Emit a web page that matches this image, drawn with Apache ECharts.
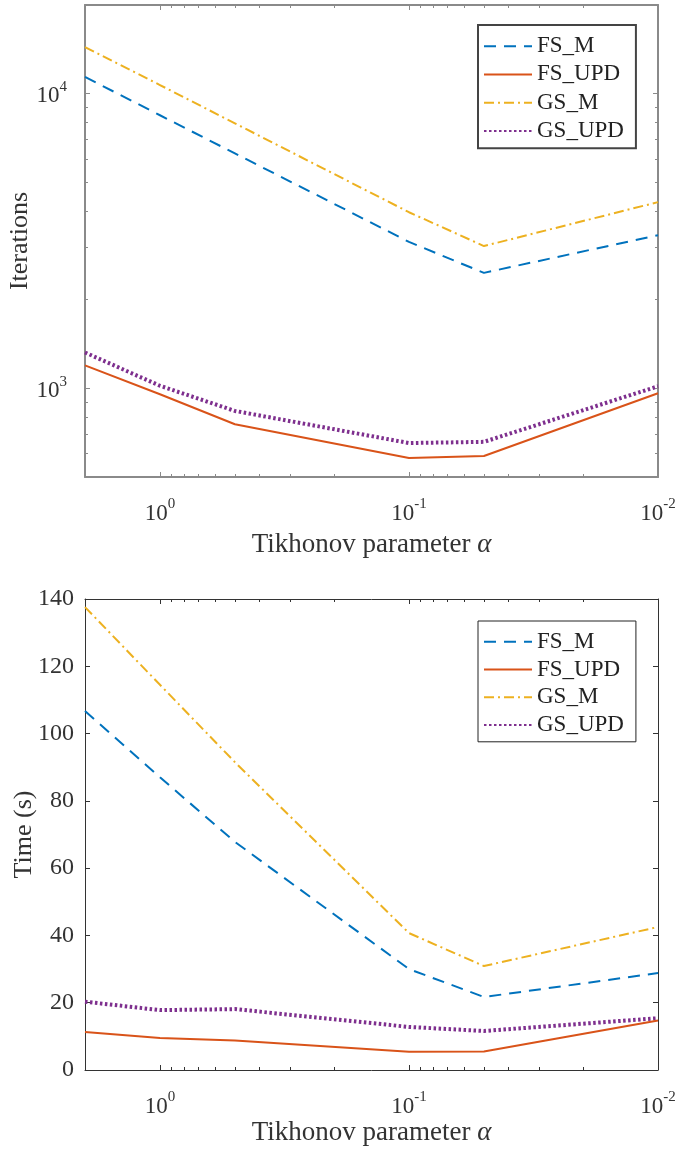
<!DOCTYPE html>
<html><head><meta charset="utf-8">
<script src="https://cdn.jsdelivr.net/npm/echarts@6/dist/echarts.min.js"></script>
<style>html,body{margin:0;padding:0;background:#fff}#c{width:679px;height:1150px}</style>
</head><body><div id="c"></div>
<script>
// ---- data ----
const alphas = [2, 1, 0.5, 0.1, 0.05, 0.01];
const seriesNames = ['FS_M', 'FS_UPD', 'GS_M', 'GS_UPD'];

const iterFS_M   = [11400, 8450, 6270, 3140, 2465, 3310];
const iterFS_UPD = [1196, 955, 755, 580, 589, 962];
const iterGS_M   = [14400, 10700, 7930, 3960, 3040, 4285];
const iterGS_UPD = [1323, 1020, 838, 652, 658, 1016];

const timeFS_M   = [106.7, 87.0, 67.8, 30.0, 21.7, 28.8];
const timeFS_UPD = [11.3, 9.5, 8.8, 5.4, 5.5, 14.7];
const timeGS_M   = [137.6, 114.5, 91.5, 40.7, 30.9, 42.5];
const timeGS_UPD = [20.3, 17.8, 18.1, 12.8, 11.6, 15.4];

const xMajorTicks = [1, 0.1, 0.01];
const xMinorTicks = [2, 0.9, 0.8, 0.7, 0.6, 0.5, 0.4, 0.3, 0.2,
                     0.09, 0.08, 0.07, 0.06, 0.05, 0.04, 0.03, 0.02];
const yIterMajorTicks = [1000, 10000];
const yIterMinorTicks = [600, 700, 800, 900, 2000, 3000, 4000, 5000, 6000, 7000, 8000, 9000];

// ---- style ----
const FONT = 'Liberation Serif';
const colors = ['#0072BD', '#D95319', '#EDB120', '#7E2F8E'];
const lineTypes = [[12, 8], 'solid', [10, 4, 2, 4], [2.5, 2.5]];
const lineWidths = [2, 2, 2, 4];

const pow10Rich = {
  b: { fontFamily: FONT, fontSize: 23, color: '#333', lineHeight: 28, verticalAlign: 'bottom' },
  s: { fontFamily: FONT, fontSize: 15, color: '#333', lineHeight: 16, verticalAlign: 'top' }
};
function pow10Label(v) {
  const e = Math.round(Math.log10(v));
  return '{b|10}{s|' + e + '}';
}

const frames = [{ color: '#8a8a8a', width: 2 }, { color: '#333', width: 1 }];
const xNameGaps = [54, 49];

function makeXAxes(g) {
  const fr = frames[g];
  const base = { gridIndex: g, type: 'log', logBase: 10, min: 0.01, max: 2, inverse: true,
                 splitLine: { show: false }, minorTick: { show: false } };
  const main = Object.assign({}, base, {
    position: 'bottom',
    axisLine: { show: true, lineStyle: { color: fr.color, width: fr.width } },
    axisTick: { show: true, inside: true, length: 5, customValues: xMajorTicks, lineStyle: { color: fr.color, width: 1 } },
    axisLabel: { show: true, customValues: xMajorTicks, formatter: pow10Label, rich: pow10Rich, margin: 20 },
    name: 'Tikhonov parameter {a|α}', nameLocation: 'middle', nameGap: xNameGaps[g], nameMoveOverlap: false,
    nameTextStyle: { fontFamily: FONT, fontSize: 27, color: '#333',
      rich: { a: { fontFamily: FONT, fontSize: 27, fontStyle: 'italic', color: '#333' } } }
  });
  const minor = pos => Object.assign({}, base, {
    position: pos,
    axisLine: { show: false },
    axisTick: { show: true, inside: true, length: 3, customValues: xMinorTicks, lineStyle: { color: fr.color, width: 1 } },
    axisLabel: { show: false }
  });
  const top = Object.assign({}, base, {
    position: 'top',
    axisLine: { show: true, lineStyle: { color: fr.color, width: fr.width } },
    axisTick: { show: true, inside: true, length: 5, customValues: xMajorTicks, lineStyle: { color: fr.color, width: 1 } },
    axisLabel: { show: false }
  });
  return [main, minor('bottom'), top, minor('top')];
}

function makeIterYAxes() {
  const fr = frames[0];
  const base = { gridIndex: 0, type: 'log', logBase: 10, min: 500, max: 20000,
                 splitLine: { show: false }, minorTick: { show: false } };
  const main = Object.assign({}, base, {
    position: 'left',
    axisLine: { show: true, lineStyle: { color: fr.color, width: fr.width } },
    axisTick: { show: true, inside: true, length: 5, customValues: yIterMajorTicks, lineStyle: { color: fr.color, width: 1 } },
    axisLabel: { show: true, customValues: yIterMajorTicks, formatter: pow10Label, rich: pow10Rich, margin: 18 },
    name: 'Iterations', nameLocation: 'middle', nameGap: 52, nameMoveOverlap: false,
    nameTextStyle: { fontFamily: FONT, fontSize: 26, color: '#333' }
  });
  const minor = pos => Object.assign({}, base, {
    position: pos,
    axisLine: { show: false },
    axisTick: { show: true, inside: true, length: 3, customValues: yIterMinorTicks, lineStyle: { color: fr.color, width: 1 } },
    axisLabel: { show: false }
  });
  const right = Object.assign({}, base, {
    position: 'right',
    axisLine: { show: true, lineStyle: { color: fr.color, width: fr.width } },
    axisTick: { show: true, inside: true, length: 5, customValues: yIterMajorTicks, lineStyle: { color: fr.color, width: 1 } },
    axisLabel: { show: false }
  });
  return [main, minor('left'), right, minor('right')];
}

function makeTimeYAxes() {
  const fr = frames[1];
  const base = { gridIndex: 1, type: 'value', min: 0, max: 140, interval: 20, splitLine: { show: false } };
  const left = Object.assign({}, base, {
    position: 'left',
    axisLine: { show: true, lineStyle: { color: fr.color, width: fr.width } },
    axisTick: { show: true, inside: true, length: 5, lineStyle: { color: fr.color, width: 1 } },
    axisLabel: { show: true, fontFamily: FONT, fontSize: 24, color: '#333', margin: 11 },
    name: 'Time (s)', nameLocation: 'middle', nameGap: 48, nameMoveOverlap: false,
    nameTextStyle: { fontFamily: FONT, fontSize: 26, color: '#333' }
  });
  const right = Object.assign({}, base, {
    position: 'right',
    axisLine: { show: true, lineStyle: { color: fr.color, width: fr.width } },
    axisTick: { show: true, inside: true, length: 5, lineStyle: { color: fr.color, width: 1 } },
    axisLabel: { show: false }
  });
  return [left, right];
}

const xAxes = makeXAxes(0).concat(makeXAxes(1));       // main x: 0 and 4
const yAxes = makeIterYAxes().concat(makeTimeYAxes());  // main y: 0 and 4

function pairs(vals) { return alphas.map((a, i) => [a, vals[i]]); }

const iterData = [iterFS_M, iterFS_UPD, iterGS_M, iterGS_UPD];
const timeData = [timeFS_M, timeFS_UPD, timeGS_M, timeGS_UPD];

const series = [];
[iterData, timeData].forEach((set, g) => {
  set.forEach((vals, k) => {
    series.push({
      name: seriesNames[k], type: 'line', xAxisIndex: g * 4, yAxisIndex: g * 4,
      data: pairs(vals), symbol: 'none', silent: true, animation: false, z: 10 - k,
      lineStyle: { color: colors[k], width: lineWidths[k], type: lineTypes[k], cap: 'butt' },
      itemStyle: { color: colors[k] }
    });
  });
});

function makeLegend(top, g) {
  return {
    orient: 'vertical', left: 478, top: top,
    data: seriesNames,
    itemWidth: 48, itemHeight: 14, itemGap: 0,
    padding: [7, 12, 3, 5],
    borderColor: g === 0 ? '#444' : '#222', borderWidth: g === 0 ? 2 : 1,
    backgroundColor: '#fff',
    selectedMode: false,
    itemStyle: { opacity: 0 },
    textStyle: { fontFamily: FONT, fontSize: 23, color: '#222', lineHeight: g === 0 ? 28.3 : 27.7 }
  };
}

const option = {
  backgroundColor: '#fff',
  animation: false,
  grid: [
    { left: 85, top: 5, width: 573, height: 472, containLabel: false, outerBoundsMode: 'none' },
    { left: 85, top: 599, width: 573, height: 471, containLabel: false, outerBoundsMode: 'none' }
  ],
  xAxis: xAxes,
  yAxis: yAxes,
  legend: [makeLegend(25, 0), makeLegend(621, 1)],
  series: series
};

const chart = echarts.init(document.getElementById('c'), null, { renderer: 'canvas' });
chart.setOption(option);
</script>
</body></html>
